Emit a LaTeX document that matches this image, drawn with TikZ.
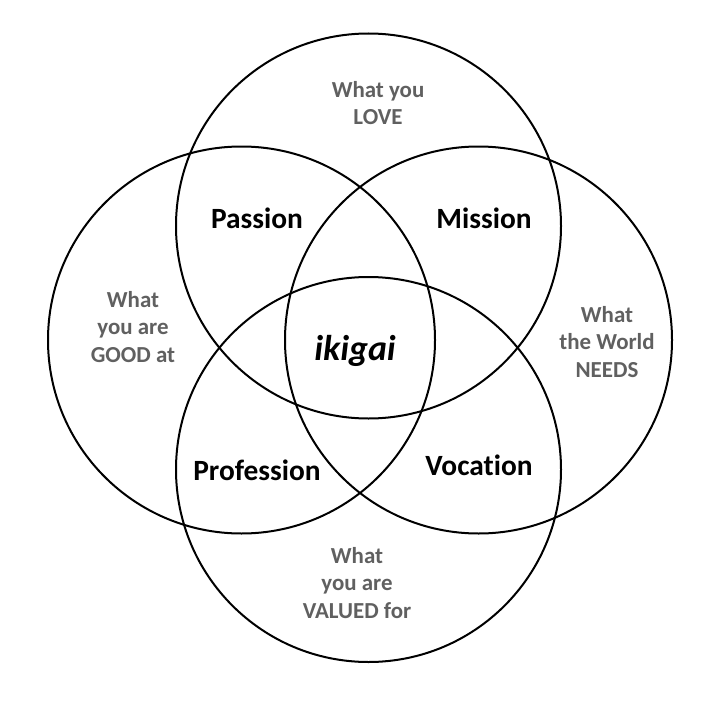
\documentclass[tikz,border=0pt]{standalone}
\usepackage{fontspec}
\setmainfont[Ligatures={NoCommon}]{Carlito}
\definecolor{softgray}{RGB}{96,96,96}
\begin{document}
\begin{tikzpicture}[x=1bp,y=-1bp,
  ring/.style={draw=black,line width=2bp},
  region/.style={font=\fontsize{23}{28}\selectfont\bfseries,text=softgray,align=center,inner sep=0pt},
  overlap/.style={font=\fontsize{29.5}{34}\selectfont\bfseries,text=black,inner sep=0pt,anchor=base},
  core/.style={font=\fontsize{36}{40}\selectfont\bfseries\itshape,text=black,inner sep=0pt,anchor=base}]
\useasboundingbox (0,0) rectangle (714,714);
\fill[white] (0,0) rectangle (714,714);
\draw[ring] (368.5,226) circle (192.5);
\draw[ring] (368.5,469.5) circle (192.5);
\draw[ring] (241.5,340) circle (193.5);
\draw[ring] (478.5,340) circle (193.5);
\node[region] (love) at (378,103) {What you\\LOVE};
\node[region] (good) at (133,327) {What\\you are\\GOOD at};
\node[region] (needs) at (607,342) {What\\the World\\NEEDS};
\node[region] (valued) at (357,583) {What\\you are\\VALUED for};
\node[overlap] (passion) at (257,228) {Passion};
\node[overlap] (mission) at (484,228) {Mission};
\node[overlap] (profession) at (257,480) {Profession};
\node[overlap] (vocation) at (479,475) {Vocation};
\node[core] (ikigai) at (355,360) {ikigai};
\end{tikzpicture}
\end{document}
